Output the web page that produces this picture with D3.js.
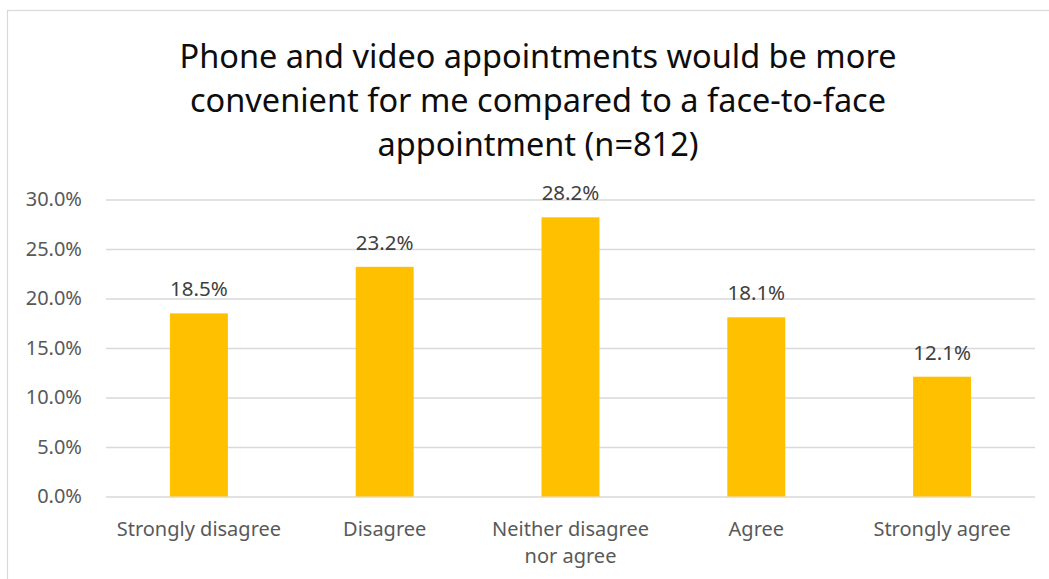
<!DOCTYPE html>
<html>
<head>
<meta charset="utf-8">
<script src="https://cdn.jsdelivr.net/npm/d3@7"></script>
<style>
  html, body { margin: 0; padding: 0; background: #fff; }
  svg { display: block; }
</style>
</head>
<body>
<svg id="chart" width="1049" height="579"></svg>
<script>
// Survey responses, share of respondents
const categories = ["Strongly disagree", "Disagree", "Neither disagree nor agree", "Agree", "Strongly agree"];
const categoryLines = [["Strongly disagree"], ["Disagree"], ["Neither disagree", "nor agree"], ["Agree"], ["Strongly agree"]];
const values = [0.185, 0.232, 0.282, 0.181, 0.121];
const yTicks = [0, 0.05, 0.10, 0.15, 0.20, 0.25, 0.30];
const titleLines = [
  "Phone and video appointments would be more",
  "convenient for me compared to a face-to-face",
  "appointment (n=812)"
];

const FONT = "'Noto Sans', 'Open Sans', sans-serif";
const svg = d3.select("#chart");

// chart frame
svg.append("rect")
  .attr("x", 7.5).attr("y", 10.5)
  .attr("width", 1100).attr("height", 700)
  .attr("fill", "none").attr("stroke", "#d9d9d9").attr("stroke-width", 1.2);

const plot = { left: 106, right: 1035, top: 199.5, bottom: 496.5 };

const x = d3.scaleBand()
  .domain(categories)
  .range([plot.left, plot.right])
  .paddingInner(0.688)
  .paddingOuter(0.344);

const y = d3.scaleLinear()
  .domain([0, 0.30])
  .range([plot.bottom, plot.top]);

const pct = d3.format(".1%");

// title
svg.append("g")
  .selectAll("text")
  .data(titleLines)
  .join("text")
  .attr("x", 538)
  .attr("y", (d, i) => 68 + i * 44)
  .attr("text-anchor", "middle")
  .attr("font-family", FONT)
  .attr("font-size", 32.5)
  .attr("fill", "#0d0d0d")
  .text(d => d);

// gridlines + y tick labels
const yAxis = d3.axisLeft(y)
  .tickValues(yTicks)
  .tickFormat(pct)
  .tickSize(-(plot.right - plot.left))
  .tickPadding(24);

const gy = svg.append("g")
  .attr("transform", `translate(${plot.left},0)`)
  .call(yAxis);
gy.select(".domain").remove();
gy.selectAll(".tick line").attr("stroke", "#d9d9d9").attr("stroke-width", 1.5);
gy.selectAll(".tick text")
  .attr("font-family", FONT)
  .attr("font-size", 20)
  .attr("fill", "#595959");

// bars
svg.append("g")
  .selectAll("rect")
  .data(values)
  .join("rect")
  .attr("x", (d, i) => x(categories[i]))
  .attr("y", d => y(d))
  .attr("width", x.bandwidth())
  .attr("height", d => y(0) - y(d))
  .attr("fill", "#ffc000");

// data labels
svg.append("g")
  .selectAll("text")
  .data(values)
  .join("text")
  .attr("x", (d, i) => x(categories[i]) + x.bandwidth() / 2)
  .attr("y", d => y(d) - 17)
  .attr("text-anchor", "middle")
  .attr("font-family", FONT)
  .attr("font-size", 20.5)
  .attr("fill", "#404040")
  .text(d => pct(d));

// category labels
const cat = svg.append("g")
  .selectAll("text")
  .data(categories)
  .join("text")
  .attr("x", d => x(d) + x.bandwidth() / 2)
  .attr("y", 536)
  .attr("text-anchor", "middle")
  .attr("font-family", FONT)
  .attr("font-size", 20)
  .attr("fill", "#595959");
cat.selectAll("tspan")
  .data((d, i) => categoryLines[i])
  .join("tspan")
  .attr("x", function () { return d3.select(this.parentNode).attr("x"); })
  .attr("dy", (d, j) => j === 0 ? 0 : 27)
  .text(d => d);
</script>
</body>
</html>
